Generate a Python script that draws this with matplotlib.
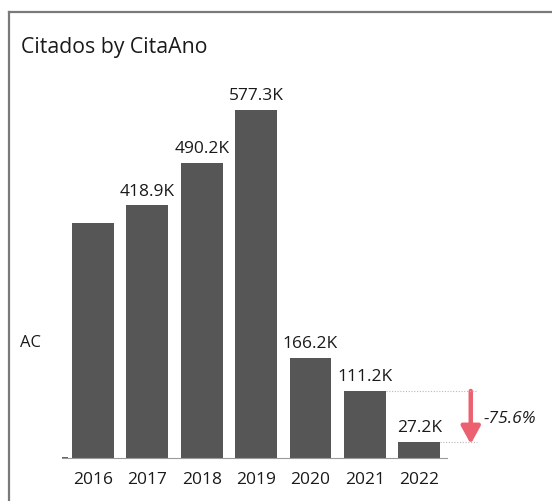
import matplotlib
matplotlib.use("Agg")
import matplotlib.pyplot as plt
from matplotlib.lines import Line2D
from matplotlib.patches import FancyArrowPatch

years = ["2016", "2017", "2018", "2019", "2020", "2021", "2022"]
citados_k = [390.0, 418.9, 490.2, 577.3, 166.2, 111.2, 27.2]
labels = ["", "418.9K", "490.2K", "577.3K", "166.2K", "111.2K", "27.2K"]
variance_label = "-75.6%"

W, H = 552, 502
plt.rcParams["font.family"] = ["Open Sans", "DejaVu Sans"]
fig = plt.figure(figsize=(W / 100, H / 100), dpi=100)
fig.patch.set_facecolor("white")
TXT = "#1a1a1a"


def fx(px):
    return px / W


def fy(py):
    return 1 - py / H


# card frame (left and top edges visible)
fig.add_artist(Line2D([fx(9), fx(9)], [fy(13), fy(H + 5)], color="#7a7a7a", lw=1.6))
fig.add_artist(Line2D([fx(9), fx(W + 5)], [fy(13), fy(13)], color="#7a7a7a", lw=1.6))

fig.text(fx(21), fy(48), "Citados by CitaAno", fontsize=15.3, color=TXT,
         va="center", ha="left")
fig.text(fx(20), fy(343), "AC", fontsize=12, color=TXT, va="center", ha="left")

ax = fig.add_axes([fx(62), fy(459), fx(447) - fx(62), fy(111) - fy(459)])
x = list(range(len(years)))
ax.bar(x, citados_k, width=0.77, color="#565656")
ax.set_xlim(-0.57, 6.51)
ax.set_ylim(0, 577.3)
for s in ["top", "right", "left"]:
    ax.spines[s].set_visible(False)
ax.spines["bottom"].set_color("#9a9a9a")
ax.spines["bottom"].set_linewidth(0.8)
ax.set_xticks(x)
ax.set_xticklabels(years, fontsize=12.5, color=TXT)
ax.tick_params(axis="x", length=0, pad=9.5)
ax.set_yticks([0])
ax.set_yticklabels([""])
ax.tick_params(axis="y", length=4, width=1.2, color="#444444", direction="in")

for xi, v, lab in zip(x, citados_k, labels):
    if lab:
        ax.annotate(lab, (xi, v), xytext=(0, 10.5), textcoords="offset points",
                    ha="center", va="center", fontsize=12.5, color=TXT,
                    annotation_clip=False)

# variance between the last two years
v_prev, v_last = citados_k[-2], citados_k[-1]
x_arrow = 6.0 + (471 - 419.5) / 54.4
x_end = x_arrow + 6 / 54.4
for xs, v in [(5 + 0.385, v_prev), (6 + 0.385, v_last)]:
    ax.plot([xs, x_end], [v, v], color="#b8b8b8", lw=0.8, ls=(0, (1, 1.5)),
            clip_on=False)
arrow = FancyArrowPatch((x_arrow, v_prev), (x_arrow, v_last - 4),
                        arrowstyle="-|>,head_length=6.2,head_width=3.4",
                        color="#ec6170", lw=3.2, mutation_scale=1.7,
                        shrinkA=0, shrinkB=0, clip_on=False)
ax.add_patch(arrow)
ax.text(x_arrow + 13 / 54.4, (v_prev + v_last) / 2 - 3, variance_label,
        fontsize=12.5, style="italic", color=TXT, ha="left", va="center",
        clip_on=False)

fig.savefig("out.png", dpi=100, facecolor="white")
